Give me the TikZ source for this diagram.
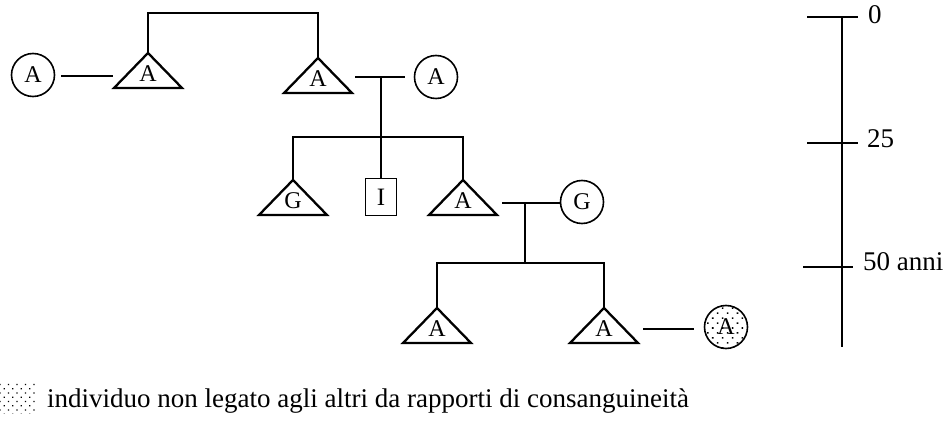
\documentclass[tikz,border=0pt]{standalone}
\usepackage{fontspec}
\setmainfont{Liberation Serif}
\usetikzlibrary{patterns.meta,calc}
\begin{document}
\begin{tikzpicture}[x=1pt,y=-1pt,
  link/.style={line width=1.6pt},
  tri/.style={line width=2.3pt,line join=miter},
  lbl/.style={font=\fontsize{24}{24}\selectfont,inner sep=0pt},
  person/.style={circle,draw,line width=1.6pt,minimum size=43pt,inner sep=0pt,
    font=\fontsize{24}{24}\selectfont},
  boxed/.style={rectangle,draw,line width=1.5pt,minimum width=31pt,minimum height=37pt,
    inner sep=0pt,font=\fontsize{25}{25}\selectfont},
  dotfill/.style={pattern={Dots[radius=1.1pt,distance=7pt,angle=45]}},
  swatch/.style={pattern={Dots[radius=0.95pt,distance=6pt,angle=45]}},
  scaletxt/.style={font=\fontsize{27}{27}\selectfont,anchor=west,inner sep=0pt}]
\useasboundingbox (0,0) rectangle (952,427);

% male symbols: triangles, apex used as the attachment point
\newcommand{\maletri}[3]{%
  \coordinate (#1) at (#2);
  \draw[tri] (#1) -- ++(-34,35) -- ++(68,0) -- cycle;
  \node[lbl] (#1l) at ($(#1)+(0,21)$) {#3};}

% first generation
\node[person] (w1) at (33,75) {A};
\maletri{m1}{148,53}{A}
\maletri{m2}{318,58}{A}
\node[person] (w2) at (436,77) {A};

% second generation
\maletri{m3}{293,180}{G}
\node[boxed] (i1) at (381,197) {I};
\maletri{m4}{463,180}{A}
\node[person] (w3) at (582,202) {G};

% third generation
\maletri{m5}{437,308}{A}
\maletri{m6}{604,308}{A}
\node[person,dotfill] (w4) at (726,327) {A};

% couples and sibship bars
\draw[link] ($(w1.east)+(6,1)$) -- ($(m1)+(-35,23)$);
\draw[link] (m1) -- ++(0,-40) -| (m2);

\coordinate (c2) at (381,77);
\draw[link] (355,77) -- ($(w2.west)+(-9,0)$);
\draw[link] (c2) -- (381,137) coordinate (s1);
\draw[link] (m3) |- (s1) -| (m4);
\draw[link] (s1) -- (i1.north);

\coordinate (c3) at (525,203);
\draw[link] (502,203) -- (w3.west |- c3);
\draw[link] (c3) -- (525,263) coordinate (s2);
\draw[link] (m5) |- (s2) -| (m6);

\draw[link] (643,329) -- ($(w4.west)+(-10,2)$);

% time scale
\coordinate (st) at (842,17);
\coordinate (sb) at (842,347);
\draw[link] (st) -- (sb);
\draw[link] (807,17) -- (858,17);
\draw[link] (807,143) -- (858,143);
\draw[link] (803,267) -- (853,267);
\node[scaletxt] (t0) at (868,15) {0};
\node[scaletxt] (t25) at (867,139) {25};
\node[scaletxt] (t50) at (863,262) {50 anni};

% legend
\fill[swatch] (0,383) rectangle (37,413);
\node[scaletxt,anchor=base west] (leg) at (47,407) {individuo non legato agli altri da rapporti di consanguineità};
\end{tikzpicture}
\end{document}
